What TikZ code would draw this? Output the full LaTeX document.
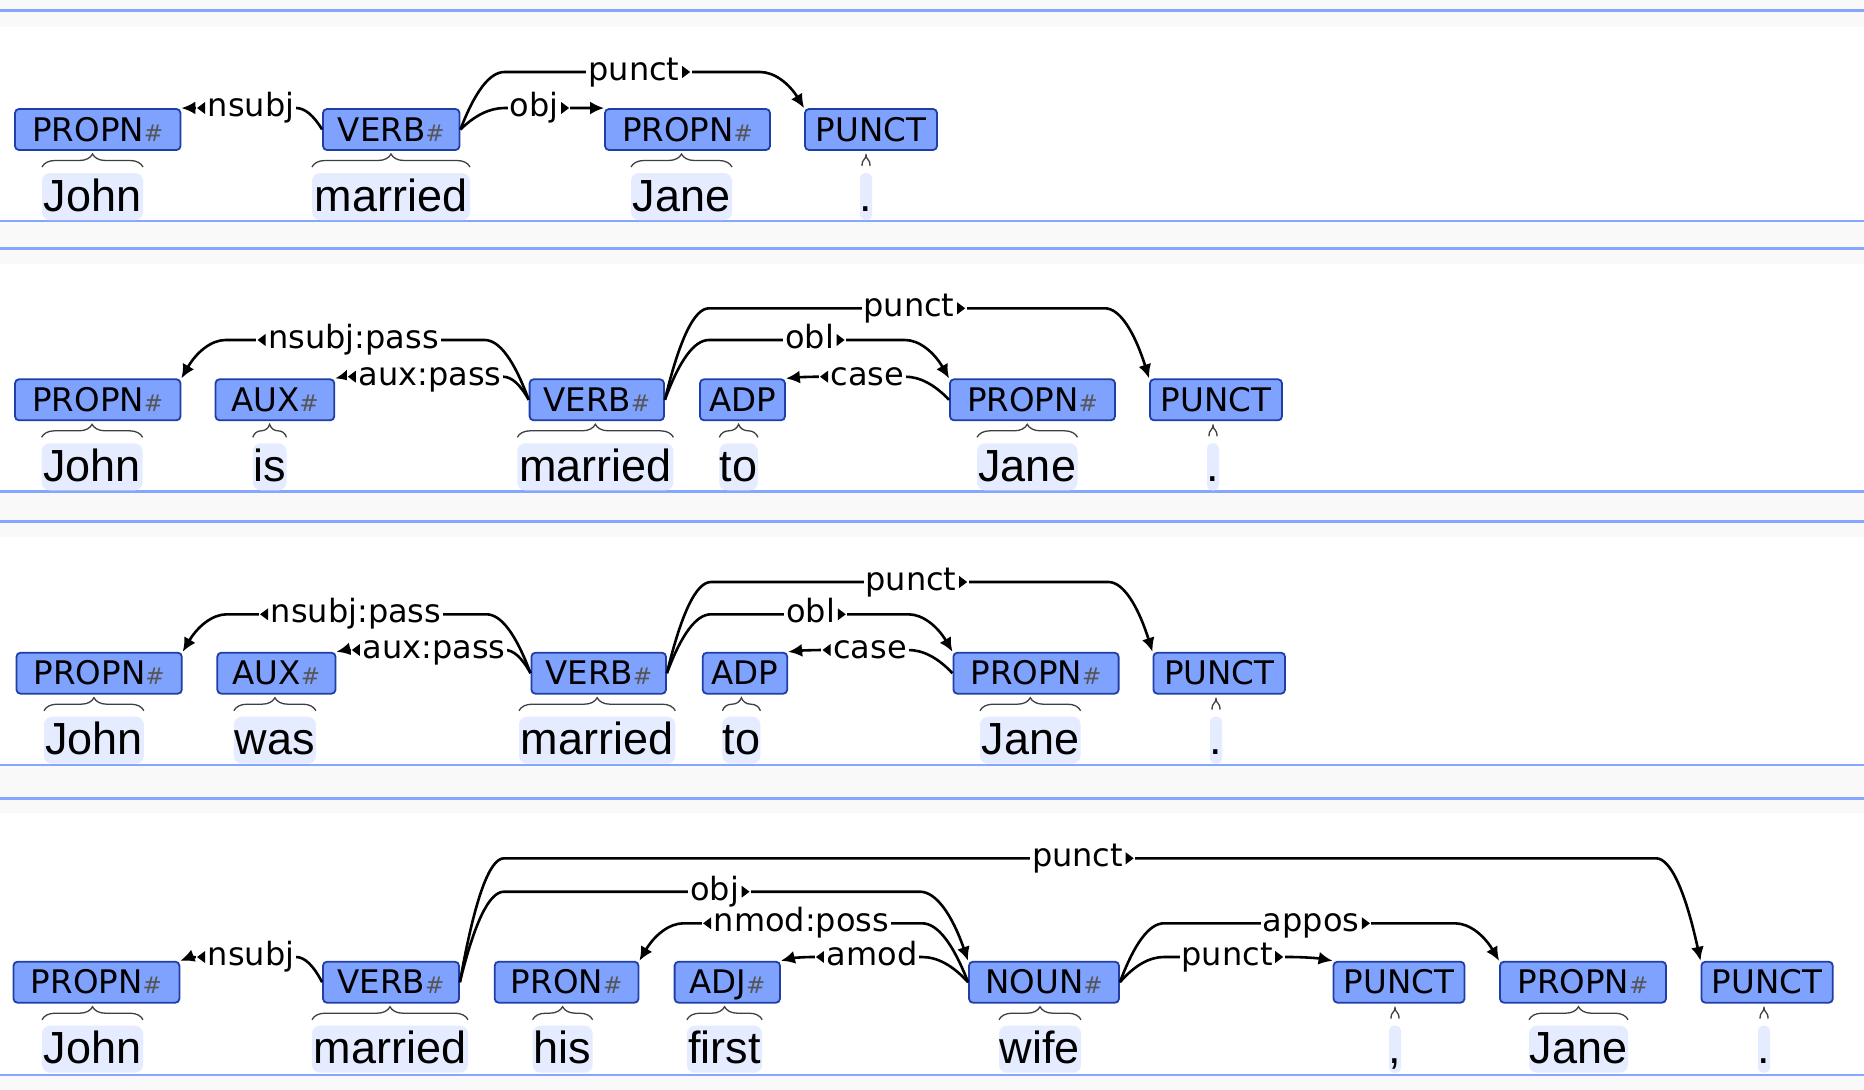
\documentclass[tikz,border=0pt]{standalone}
\usepackage{fontspec}
\setmainfont{Liberation Sans}
\newfontfamily\labfont{DejaVu Sans}
\usetikzlibrary{calc,arrows.meta,decorations.pathreplacing}
\definecolor{tagfill}{HTML}{7FA2FF}
\definecolor{tagdraw}{HTML}{1F3FA6}
\definecolor{wordbg}{HTML}{E6ECFF}
\definecolor{sepblue}{HTML}{86A7FF}
\definecolor{bandgray}{HTML}{F9F9F9}
\definecolor{hashgray}{HTML}{555555}
\newcommand\hs{{\fontsize{23}{23}\selectfont\color{hashgray}\#}}
\tikzset{
  tag/.style={draw=tagdraw, fill=tagfill, line width=1.8pt, rounded corners=4pt,
    inner sep=0pt, minimum height=41pt, text height=23.5pt, text depth=0pt,
    font=\labfont\fontsize{32.5}{32.5}\selectfont},
  lbl/.style={fill=white, inner xsep=2pt, inner ysep=0pt, text height=24pt, text depth=7pt,
    font=\labfont\fontsize{32}{32}\selectfont},
  dep/.style={line width=2.6pt, -{Latex[length=14pt,width=13pt]}},
  word/.style={font=\fontsize{45}{45}\selectfont, anchor=base, inner sep=0pt},
  brc/.style={decorate, decoration={brace, amplitude=13pt}, line width=1.3pt, draw=black!75},
  sepl/.style={draw=sepblue, line width=2.5pt},
}
\newcommand\deparc[6]{%
  \coordinate (#6cs) at (#3,#5);
  \coordinate (#6ct) at (#4,#5);
  \coordinate (#6qs) at ($(#6cs)!0.5!(#1 |- #6cs)$);
  \coordinate (#6qt) at ($(#6ct)!0.5!(#2 |- #6ct)$);
  \draw[dep] (#1) .. controls ($(#1)!2/3!(#6qs)$) and ($(#6cs)!2/3!(#6qs)$) .. (#6cs)
    -- (#6ct) .. controls ($(#6ct)!2/3!(#6qt)$) and ($(#2)!2/3!(#6qt)$) .. (#2);
}
\newcommand\labL[4]{%
  \node[lbl, xshift=-5pt] (#1) at (#2,#3) {\hspace*{10pt}#4};
  \fill ($(#1.west)+(1.5,0)$) -- ++(8,6) -- ++(0,-12) -- cycle;
}
\newcommand\labR[4]{%
  \node[lbl, xshift=5pt] (#1) at (#2,#3) {#4\hspace*{10pt}};
  \fill ($(#1.east)+(-1.5,0)$) -- ++(-8,6) -- ++(0,-12) -- cycle;
}
% word: name, left, right, text, rowtop T
\newcommand\wrd[5]{%
  \fill[wordbg, rounded corners=8pt] (#2,#5+64) rectangle (#3,#5+111);
  \node[word] (#1) at ({(#2+#3)/2},#5+102) {#4};
  \draw[brc] (#2,#5+58) -- (#3,#5+58);
}
\newcommand\pwrd[4]{%
  \fill[wordbg, rounded corners=5pt] (#2-6,#4+64) rectangle (#2+6,#4+111);
  \node[word] (#1) at (#2,#4+102) {#3};
  \draw[line width=1.3pt, draw=black!75] (#2-4,#4+57) .. controls (#2-4,#4+49) and (#2,#4+52) .. (#2,#4+45)
     .. controls (#2,#4+52) and (#2+4,#4+49) .. (#2+4,#4+57);
}
\begin{document}
\begin{tikzpicture}[x=1pt,y=-1pt]
\useasboundingbox (0,0) rectangle (1864,1090);
\fill[white] (0,0) rectangle (1864,1090);
% bands and separators
\fill[bandgray] (0,0) rectangle (1864,27);
\fill[bandgray] (0,221) rectangle (1864,264);
\fill[bandgray] (0,491.7) rectangle (1864,537);
\fill[bandgray] (0,765) rectangle (1864,813);
\fill[bandgray] (0,1075) rectangle (1864,1090);
\foreach \yy in {10.7,221,248.3,491.7,521.7,765,798.3,1075}
  \draw[sepl] (0,\yy) -- (1864,\yy);

% ---------------- Row 1 ----------------
\wrd{w11}{42}{143}{John}{109}
\wrd{w12}{312}{470}{married}{109}
\wrd{w13}{631}{732}{Jane}{109}
\pwrd{w14}{866}{.}{109}
\node[tag, minimum width=165.5pt] (A1) at (97.75,129.5) {PROPN\hs};
\node[tag, minimum width=136.5pt] (B1) at (391.25,129.5) {VERB\hs};
\node[tag, minimum width=165pt] (C1) at (687.5,129.5) {PROPN\hs};
\node[tag, minimum width=132pt] (D1) at (871,129.5) {PUNCT};
\deparc{B1.west}{A1.north east}{296}{200}{108}{ra}
\deparc{B1.east}{C1.north west}{504.5}{568}{108}{rb}
\deparc{B1.east}{D1.north west}{504.5}{760}{72}{rc}
\labL{l11}{251}{108}{nsubj}
\labR{l12}{534}{108}{obj}
\labR{l13}{634}{72}{punct}

% ---------------- Row 2 ----------------
\wrd{w21}{41.6}{142.6}{John}{379.3}
\wrd{w22}{252.8}{286.5}{is}{379.3}
\wrd{w23}{517.3}{673.4}{married}{379.3}
\wrd{w24}{719.3}{757.9}{to}{379.3}
\wrd{w25}{977}{1077.5}{Jane}{379.3}
\pwrd{w26}{1213}{.}{379.3}
\node[tag, minimum width=165.5pt] (A2) at (97.75,399.8) {PROPN\hs};
\node[tag, minimum width=118.8pt] (B2) at (274.9,399.8) {AUX\hs};
\node[tag, minimum width=134.4pt] (C2) at (596.8,399.8) {VERB\hs};
\node[tag, minimum width=85pt] (D2) at (742.5,399.8) {ADP};
\node[tag, minimum width=165pt] (E2) at (1032.5,399.8) {PROPN\hs};
\node[tag, minimum width=132pt] (F2) at (1216,399.8) {PUNCT};
\deparc{C2.west}{A2.north east}{484.6}{225.5}{340}{sa}
\deparc{C2.west}{B2.north east}{503}{350}{376.7}{sb}
\deparc{C2.east}{F2.north west}{709}{1105}{308.3}{sc}
\deparc{C2.east}{E2.north west}{709}{905}{340}{sd}
\deparc{E2.west}{D2.north east}{905}{822}{376.7}{se}
\labL{l21}{353.5}{340}{nsubj:pass}
\labL{l22}{430}{376.7}{aux:pass}
\labR{l23}{909}{308.3}{punct}
\labR{l24}{809.5}{340}{obl}
\labL{l25}{867.5}{376.7}{case}

% ---------------- Row 3 ----------------
\wrd{w31}{44}{143.9}{John}{652.7}
\wrd{w32}{233.9}{315.9}{was}{652.7}
\wrd{w33}{519}{675.3}{married}{652.7}
\wrd{w34}{722.4}{760.4}{to}{652.7}
\wrd{w35}{980}{1080.6}{Jane}{652.7}
\pwrd{w36}{1216}{.}{652.7}
\node[tag, minimum width=165.3pt] (A3) at (99.15,673.2) {PROPN\hs};
\node[tag, minimum width=118.2pt] (B3) at (276.4,673.2) {AUX\hs};
\node[tag, minimum width=134.6pt] (C3) at (598.7,673.2) {VERB\hs};
\node[tag, minimum width=84.5pt] (D3) at (745,673.2) {ADP};
\node[tag, minimum width=165.2pt] (E3) at (1036,673.2) {PROPN\hs};
\node[tag, minimum width=131.6pt] (F3) at (1219.2,673.2) {PUNCT};
\deparc{C3.west}{A3.north east}{486.4}{226.8}{614.3}{ta}
\deparc{C3.west}{B3.north east}{505}{354}{650}{tb}
\deparc{C3.east}{F3.north west}{711}{1108.4}{582}{tc}
\deparc{C3.east}{E3.north west}{711}{908.4}{614.3}{td}
\deparc{E3.west}{D3.north east}{908.4}{824}{650}{te}
\labL{l31}{356}{614.3}{nsubj:pass}
\labL{l32}{434}{650}{aux:pass}
\labR{l33}{911}{582}{punct}
\labR{l34}{810.7}{614.3}{obl}
\labL{l35}{870}{650}{case}

% ---------------- Row 4 ----------------
\wrd{w41}{42}{143}{John}{961.7}
\wrd{w42}{312}{468}{married}{961.7}
\wrd{w43}{532.6}{592.6}{his}{961.7}
\wrd{w44}{686.9}{762.2}{first}{961.7}
\wrd{w45}{999}{1081}{wife}{961.7}
\pwrd{w46}{1395}{,}{961.7}
\wrd{w47}{1529}{1628}{Jane}{961.7}
\pwrd{w48}{1764}{.}{961.7}
\node[tag, minimum width=165.9pt] (A4) at (96.45,982.2) {PROPN\hs};
\node[tag, minimum width=136pt] (B4) at (391,982.2) {VERB\hs};
\node[tag, minimum width=143.8pt] (C4) at (566.6,982.2) {PRON\hs};
\node[tag, minimum width=105.4pt] (D4) at (727.3,982.2) {ADJ\hs};
\node[tag, minimum width=150pt] (E4) at (1044,982.2) {NOUN\hs};
\node[tag, minimum width=131pt] (F4) at (1399,982.2) {PUNCT};
\node[tag, minimum width=166pt] (G4) at (1583,982.2) {PROPN\hs};
\node[tag, minimum width=131.4pt] (H4) at (1767.1,982.2) {PUNCT};
\deparc{B4.west}{A4.north east}{296}{200}{957}{ua}
\deparc{B4.east}{H4.north west}{504}{1656}{858.3}{ub}
\deparc{B4.east}{E4.north west}{504}{920}{891.7}{uc}
\deparc{E4.west}{C4.north east}{922}{683.5}{923.3}{ud}
\deparc{E4.west}{D4.north east}{922}{812}{957}{ue}
\deparc{E4.east}{G4.north west}{1164}{1455}{923.3}{uf}
\deparc{E4.east}{F4.north west}{1164}{1290}{957}{ug}
\labL{l41}{251}{957}{nsubj}
\labR{l42}{1077.5}{858.3}{punct}
\labR{l43}{714.5}{891.7}{obj}
\labL{l44}{801.5}{923.3}{nmod:poss}
\labL{l45}{872}{957}{amod}
\labR{l46}{1311}{923.3}{appos}
\labR{l47}{1227}{957}{punct}
\end{tikzpicture}
\end{document}
